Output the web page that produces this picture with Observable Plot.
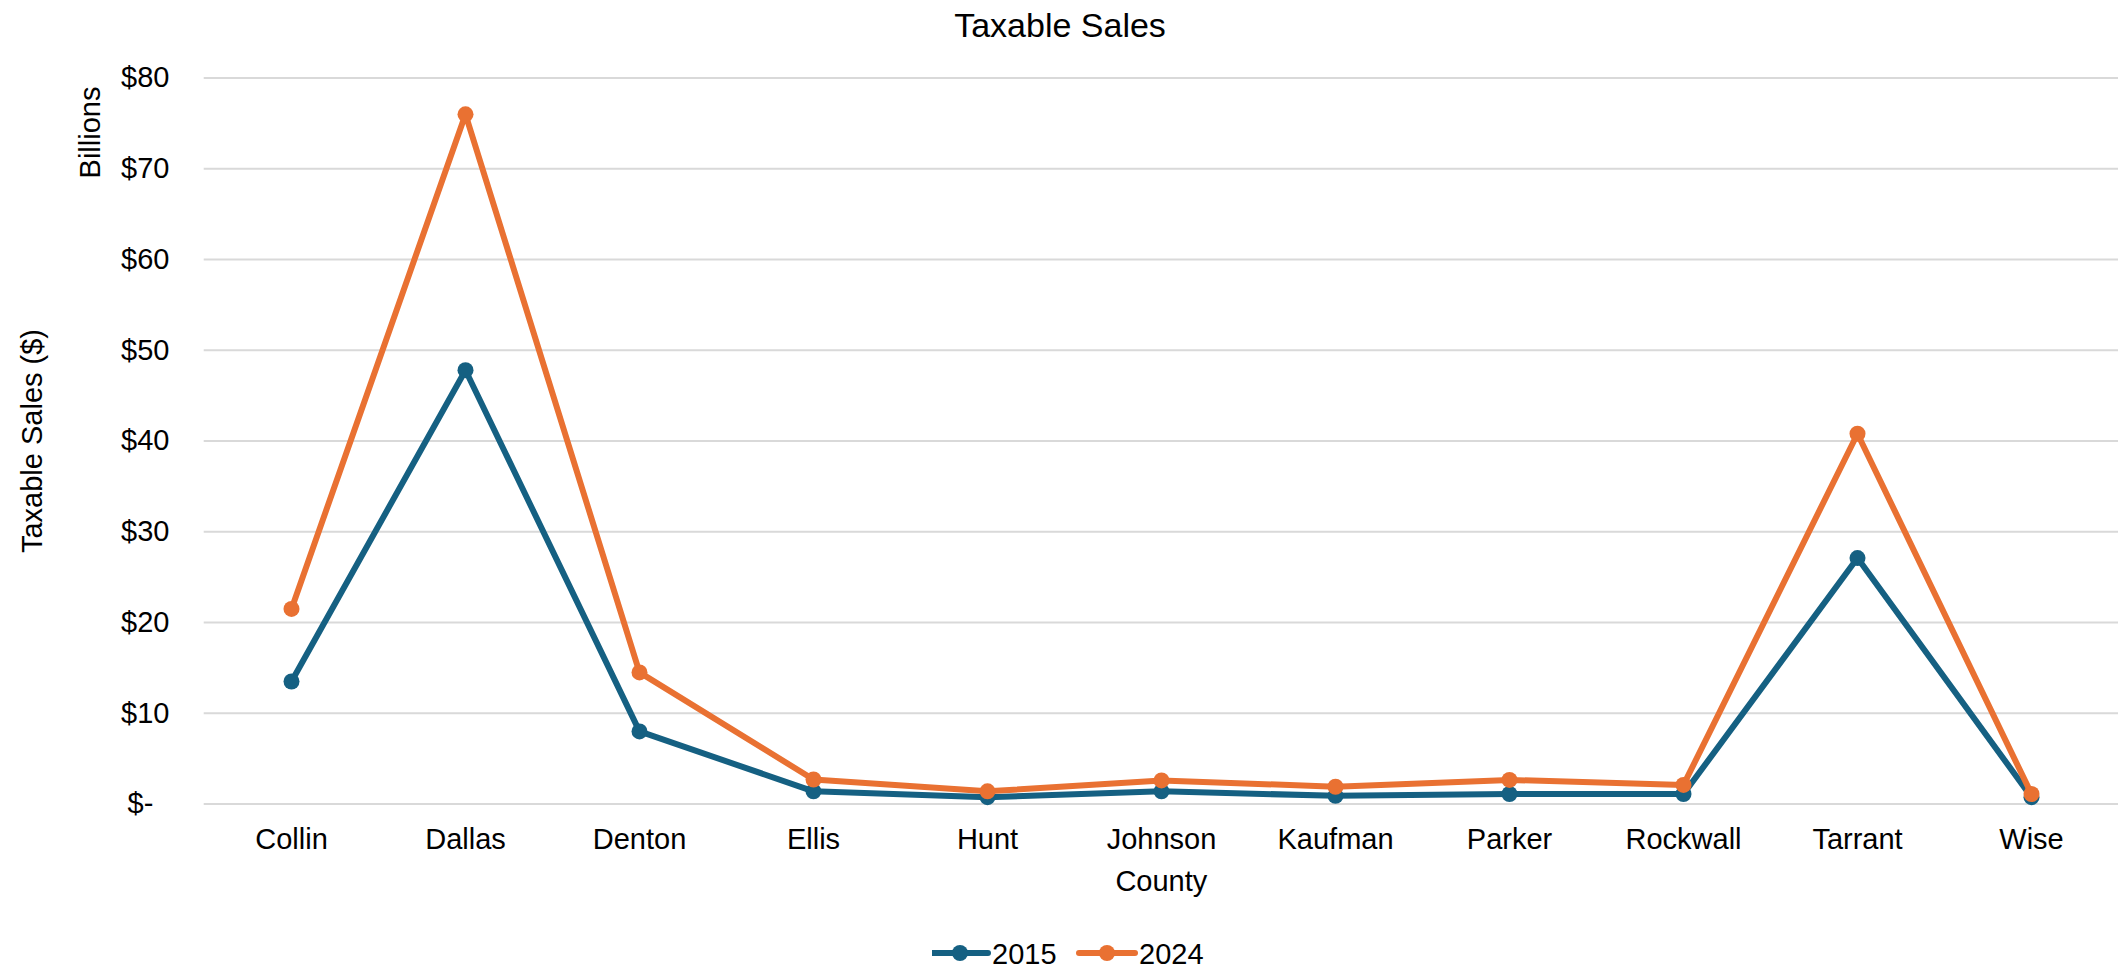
<!DOCTYPE html>
<html><head><meta charset="utf-8">
<script src="https://cdn.jsdelivr.net/npm/d3@7"></script>
<script src="https://cdn.jsdelivr.net/npm/@observablehq/plot@0.6"></script>
<style>
body{margin:0;background:#fff;font-family:"Liberation Sans",Arial,sans-serif;color:#000;width:2120px;}
#title{height:50px;line-height:50px;text-align:center;font-size:34px;}
#chart{height:880px;}
#legend{position:relative;height:42px;}
</style></head><body>
<div id="title">Taxable Sales</div>
<div id="chart"></div>
<div id="legend"></div>
<script>
const counties = ["Collin","Dallas","Denton","Ellis","Hunt","Johnson","Kaufman","Parker","Rockwall","Tarrant","Wise"];
const sales2015 = [13.5, 47.8, 8.0, 1.4, 0.75, 1.4, 0.9, 1.1, 1.1, 27.1, 0.75];
const sales2024 = [21.5, 76.0, 14.5, 2.7, 1.4, 2.6, 1.9, 2.65, 2.1, 40.8, 1.1];
const years = ["2015", "2024"];
const colors = ["#156082", "#E97132"];
const yTicks = [0, 10, 20, 30, 40, 50, 60, 70, 80];
const yTickLabels = ["$-\u00a0\u00a0", "$10", "$20", "$30", "$40", "$50", "$60", "$70", "$80"];

const rows = (vals, year) => counties.map((c, i) => ({county: c, value: vals[i], year}));
const series = [rows(sales2015, years[0]), rows(sales2024, years[1])];

const font = "'Liberation Sans', Arial, sans-serif";
const marks = [
  Plot.gridY(yTicks, {stroke: "#d9d9d9", strokeOpacity: 1, strokeWidth: 2}),
  Plot.axisY(yTicks, {tickSize: 0, tickPadding: 34.7, fontSize: 29, label: null,
    tickFormat: d => yTickLabels[yTicks.indexOf(d)]}),
  Plot.axisX({tickSize: 0, tickPadding: 24.5, fontSize: 29, label: null})
];
series.forEach((s, k) => {
  marks.push(Plot.line(s, {x: "county", y: "value", stroke: colors[k], strokeWidth: 6}));
  marks.push(Plot.dot(s, {x: "county", y: "value", fill: colors[k], r: 8}));
});
marks.push(
  Plot.text(["Taxable Sales ($)"], {text: d => d, frameAnchor: "left", dx: -171.3, rotate: -90,
    textAnchor: "middle", lineAnchor: "middle", fontSize: 29}),
  Plot.text(["Billions"], {text: d => d, frameAnchor: "top-left", dx: -113, dy: 54.5, rotate: -90,
    textAnchor: "middle", lineAnchor: "middle", fontSize: 29}),
  Plot.text(["County"], {text: d => d, frameAnchor: "bottom", dy: 77.5,
    textAnchor: "middle", lineAnchor: "middle", fontSize: 29})
);

const plot = Plot.plot({
  width: 2120, height: 880,
  marginTop: 27.5, marginBottom: 126.5, marginLeft: 203.7, marginRight: 2,
  x: {type: "point", domain: counties, padding: 0.5},
  y: {domain: [0, 80]},
  style: {fontFamily: font, fontSize: "29px", color: "#000", background: "#fff", overflow: "visible"},
  marks
});
document.getElementById("chart").append(plot);

// legend
const lg = d3.select("#legend").append("svg")
  .attr("width", 300).attr("height", 46)
  .style("position", "absolute").style("left", "931.7px").style("top", "0px")
  .style("font-family", font).style("font-size", "29px");
const offsets = [0, 147];
years.forEach((y, k) => {
  const g = lg.append("g").attr("transform", `translate(${offsets[k]},23)`);
  g.append("line").attr("x1", 0).attr("x2", 56).attr("y1", 0).attr("y2", 0)
    .attr("stroke", colors[k]).attr("stroke-width", 6).attr("stroke-linecap", "round");
  g.append("circle").attr("cx", 28).attr("cy", 0).attr("r", 8).attr("fill", colors[k]);
  g.append("text").attr("x", 60).attr("y", 10.5).attr("fill", "#000").text(y);
});
</script>
</body></html>
